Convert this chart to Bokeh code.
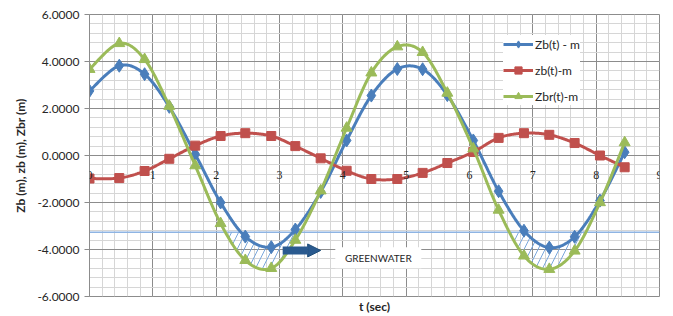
import numpy as np
from bokeh.plotting import figure
from bokeh.models import (FixedTicker, NumeralTickFormatter, Span, Arrow, NormalHead,
                          Label, LabelSet, ColumnDataSource, Legend, Title)
from bokeh.embed import file_html
from bokeh.resources import INLINE

# ---- data ----
t = [0, 0.47, 0.87, 1.26, 1.67, 2.07, 2.46, 2.87, 3.25, 3.65, 4.06,
     4.45, 4.86, 5.26, 5.65, 6.06, 6.46, 6.86, 7.26, 7.66, 8.06, 8.45]
Zb = [2.75, 3.82, 3.46, 2.07, 0.05, -2.0, -3.45, -3.9, -3.15, -1.55, 0.64,
      2.55, 3.68, 3.67, 2.57, 0.64, -1.52, -3.2, -3.92, -3.46, -1.92, 0.14]
zb = [-0.98, -0.96, -0.66, -0.14, 0.42, 0.83, 0.95, 0.83, 0.4, -0.12, -0.65,
      -1.0, -1.0, -0.74, -0.32, 0.15, 0.75, 0.95, 0.88, 0.53, 0.0, -0.5]
Zbr = [3.67, 4.77, 4.09, 2.1, -0.43, -2.89, -4.46, -4.8, -3.6, -1.5, 1.17,
       3.52, 4.63, 4.39, 2.66, 0.29, -2.32, -4.27, -4.84, -4.06, -2.0, 0.55]
series_names = ["Zb(t) - m", "zb(t)-m", "Zbr(t)-m"]
x_ticks = [0, 1, 2, 3, 4, 5, 6, 7, 8, 9]
y_ticks = [-6, -4, -2, 0, 2, 4, 6]
greenwater_level = -3.27
arrow_t = (3.05, 3.65)
arrow_y = -4.04
greenwater_text = "GREENWATER"
greenwater_pos = (4.56, -4.35)

FW, FH = 570, 282
XR, YR = (0, 9), (-6, 6)
FONT = "Lato"
TXT = "#262626"

def smooth(xs, ys, n=24):
    sx = FW / (XR[1] - XR[0]); sy = FH / (YR[1] - YR[0])
    P = np.column_stack([np.asarray(xs) * sx, np.asarray(ys) * sy])
    out = []
    m = len(P)
    for i in range(m - 1):
        p0 = P[i - 1] if i > 0 else P[i]
        p1, p2 = P[i], P[i + 1]
        p3 = P[i + 2] if i + 2 < m else P[i + 1]
        c1 = p1 + (p2 - p0) / 6.0
        c2 = p2 - (p3 - p1) / 6.0
        s = np.linspace(0, 1, n, endpoint=(i == m - 2))[:, None]
        b = (1 - s) ** 3 * p1 + 3 * (1 - s) ** 2 * s * c1 + 3 * (1 - s) * s ** 2 * c2 + s ** 3 * p2
        out.append(b)
    B = np.vstack(out)
    return B[:, 0] / sx, B[:, 1] / sy

p = figure(frame_width=FW, frame_height=FH, x_range=XR, y_range=YR,
           output_backend="svg", toolbar_location=None,
           min_border_left=89, min_border_top=14, min_border_right=6, min_border_bottom=0)
p.background_fill_color = "white"
p.border_fill_color = "white"
p.outline_line_color = "#8c8c8c"

# axes / grid
p.xaxis.visible = False
xt = FixedTicker(ticks=x_ticks, minor_ticks=list(np.round(np.arange(0, 9.01, 0.2), 2)))
p.xaxis.ticker = xt
p.xgrid.ticker = xt
yt = FixedTicker(ticks=y_ticks, minor_ticks=list(np.round(np.arange(-6, 6.01, 0.4), 2)))
p.yaxis.ticker = yt
p.ygrid.ticker = yt
for g in (p.xgrid, p.ygrid):
    g.grid_line_color = "#8c8c8c"
    g.grid_line_width = 1
    g.minor_grid_line_color = "#d6d6d6"
    g.minor_grid_line_width = 1
    g.level = "underlay"

ya = p.yaxis[0]
ya.formatter = NumeralTickFormatter(format="0.0000")
ya.axis_line_color = "#8c8c8c"
ya.major_tick_line_color = "#8c8c8c"
ya.major_tick_out = 5
ya.major_tick_in = 0
ya.minor_tick_line_color = None
ya.major_label_standoff = 5
ya.major_label_text_font = FONT
ya.major_label_text_font_size = "12px"
ya.major_label_text_color = TXT
ya.axis_label = "Zb (m), zb (m), Zbr (m)"
ya.axis_label_text_font = FONT
ya.axis_label_text_font_size = "12px"
ya.axis_label_text_font_style = "bold"
ya.axis_label_text_color = TXT
ya.axis_label_standoff = 6

p.add_layout(Title(text="t (sec)", align="center", text_font=FONT, text_font_size="12px",
                   text_font_style="bold", text_color=TXT, standoff=0), "below")

# x tick labels drawn along y = 0
src_lbl = ColumnDataSource(dict(x=x_ticks, y=[0] * len(x_ticks), t=[str(v) for v in x_ticks]))
p.add_layout(LabelSet(x="x", y="y", text="t", source=src_lbl, text_align="center",
                      text_baseline="top", y_offset=-15, text_font=FONT,
                      text_font_size="12px", text_color=TXT))

# smooth curves
sb_x, sb_y = smooth(t, Zb)
sr_x, sr_y = smooth(t, zb)
sg_x, sg_y = smooth(t, Zbr)

# hatched greenwater area (between Zbr and min(Zb, level) where Zbr below level)
tt = np.linspace(t[0], t[-1], 2000)
gb = np.interp(tt, sb_x, sb_y)
gg = np.interp(tt, sg_x, sg_y)
mask = gg < greenwater_level
idx = np.where(mask)[0]
if len(idx):
    splits = np.where(np.diff(idx) > 1)[0] + 1
    for seg in np.split(idx, splits):
        xs = tt[seg]
        top = np.minimum(gb[seg], greenwater_level)
        bot = gg[seg]
        p.varea(x=xs, y1=bot, y2=top, fill_color=None, fill_alpha=0,
                hatch_pattern="/", hatch_color="#7aa7dc", hatch_weight=1, hatch_scale=14)

p.add_layout(Span(location=greenwater_level, dimension="width", line_color="#8eb4e3",
                  line_width=1.5, level="underlay"))

colors = ["#4a7ebb", "#c0504d", "#9bbb59"]
r_items = []
for (sx_, sy_), ys, c, mk, sz, name in [((sb_x, sb_y), Zb, colors[0], "diamond", 13, series_names[0]),
                                         ((sr_x, sr_y), zb, colors[1], "square", 9, series_names[1]),
                                         ((sg_x, sg_y), Zbr, colors[2], "triangle", 11, series_names[2])]:
    ln = p.line(sx_, sy_, line_color=c, line_width=3)
    sc = p.scatter(t, ys, marker=mk, size=sz, fill_color=c, line_color=c)
    r_items.append((name, [ln, sc]))

legend = Legend(items=r_items, location=(414, 191), orientation="vertical",
                label_text_font=FONT, label_text_font_size="12px", label_text_color=TXT,
                glyph_width=30, glyph_height=18, label_height=18, spacing=8,
                padding=4, margin=0, label_standoff=2,
                background_fill_color="white", background_fill_alpha=1,
                border_line_color=None)
p.add_layout(legend)

# greenwater arrow and label
p.add_layout(Arrow(x_start=arrow_t[0], y_start=arrow_y, x_end=arrow_t[1], y_end=arrow_y,
                   line_color="#2a5a8f", line_width=8,
                   end=NormalHead(size=13, fill_color="#2a5a8f", line_color="#1f4e79")))
p.rect(x=[greenwater_pos[0]], y=[greenwater_pos[1]], width=86, height=21,
       width_units="screen", height_units="screen", fill_color="white", line_color=None)
p.add_layout(Label(x=greenwater_pos[0], y=greenwater_pos[1], text=greenwater_text,
                   text_align="center", text_baseline="middle", text_font=FONT,
                   text_font_size="10px", text_color=TXT))

open("out.html", "w").write(file_html(p, INLINE))
